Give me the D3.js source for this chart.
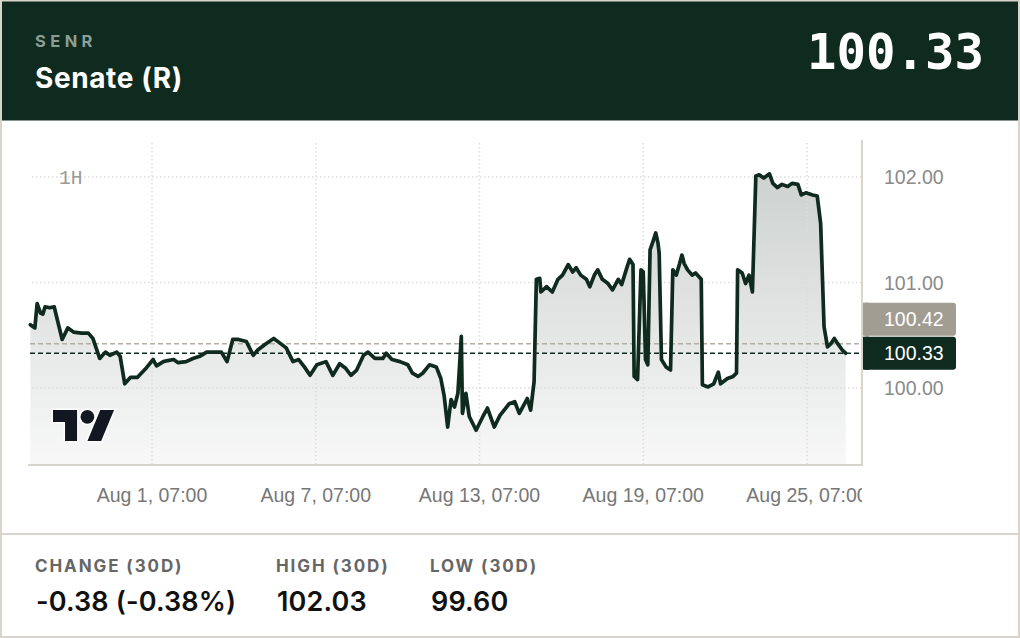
<!DOCTYPE html>
<html><head><meta charset="utf-8">
<script src="https://cdn.jsdelivr.net/npm/d3@7"></script>
<style>html,body{margin:0;padding:0;background:#fff;} svg{display:block}</style>
</head><body>
<svg id="c" width="1020" height="638"></svg>
<script>
// ---------- data ----------
const symbol = "SENR";
const title = "Senate (R)";
const intervalLabel = "1H";
const lastPrice = 100.33;
const prevClose = 100.42;
const startTime = "2024-07-27T00:00";
// hours since startTime
const hours = [20,24,26,29,31,33,37,41,43,48,53,58,65,71,75,81,86,90,96,99,103,108,114,122,128,131,137,141,146,150,157,163,169,175,181,188,193,198,203,210,216,220,226,234,239,245,251,256,261,266,272,280,286,292,297,302,307,313,317,323,330,333,338,345,352,356,361,365,371,377,381,384,387,390,393,396,399,400,403,406,412,418,422,428,433,441,446,450,457,460,463,465,468,469,474,479,484,488,493,497,500,504,509,512,516,519,523,528,532,537,540,544,547,550,551,554,557,559,561,563,565,567,570,572,573,575,579,583,585,588,591,593,595,598,602,605,610,611,616,621,625,627,633,638,641,642,646,649,652,655,658,661,665,670,673,677,681,686,690,695,698,702,708,712,715,718,721,724,727,730,734,737];
const prices = [100.60,100.57,100.80,100.71,100.70,100.77,100.76,100.77,100.68,100.46,100.57,100.53,100.52,100.52,100.47,100.28,100.34,100.31,100.34,100.30,100.04,100.10,100.10,100.19,100.27,100.21,100.25,100.26,100.27,100.24,100.25,100.28,100.30,100.34,100.34,100.34,100.25,100.46,100.46,100.44,100.31,100.36,100.41,100.47,100.43,100.38,100.25,100.27,100.20,100.12,100.22,100.25,100.12,100.23,100.19,100.12,100.17,100.31,100.34,100.28,100.28,100.33,100.27,100.25,100.22,100.14,100.11,100.14,100.22,100.20,100.09,99.92,99.63,99.89,99.82,99.95,100.49,99.76,99.95,99.73,99.60,99.73,99.81,99.63,99.74,99.85,99.87,99.76,99.90,99.79,100.06,101.03,101.04,100.91,100.96,100.91,101.03,101.07,101.17,101.10,101.14,101.07,101.03,100.96,101.07,101.12,101.03,100.99,100.93,101.03,100.98,101.12,101.22,101.17,100.11,100.08,101.12,101.10,100.27,100.22,101.31,101.37,101.47,101.37,101.28,100.27,100.20,100.17,101.12,101.07,101.18,101.26,101.18,101.12,101.07,101.09,101.03,100.03,100.01,100.04,100.15,100.04,100.09,100.11,100.14,101.12,101.09,100.99,101.07,100.91,102.01,102.02,101.99,102.03,101.94,101.90,101.93,101.91,101.94,101.93,101.83,101.85,101.83,101.82,101.56,100.58,100.39,100.42,100.47,100.42,100.36,100.33];
const yTicks = [100, 101, 102];
const xTicks = ["2024-08-01T07:00","2024-08-07T07:00","2024-08-13T07:00","2024-08-19T07:00","2024-08-25T07:00"];
const statLabels = ["CHANGE (30D)", "HIGH (30D)", "LOW (30D)"];
const statValues = ["-0.38 (-0.38%)", "102.03", "99.60"];

// ---------- setup ----------
const parse = d3.timeParse("%Y-%m-%dT%H:%M");
const t0 = parse(startTime);
const data = hours.map((h, i) => ({t: new Date(t0.getTime() + h * 3600e3), v: prices[i]}));
const tickDates = xTicks.map(parse);

const DARK = "#0f2a1f", BEIGE = "#d9d5cc";
const plotL = 30, plotR = 862, plotT = 140, plotB = 465;

const svg = d3.select("#c");
const defs = svg.append("defs");

const x = d3.scaleTime().domain([tickDates[0], tickDates[tickDates.length - 1]]).range([152, 807]);
const y = d3.scaleLinear().domain([100, 102]).range([388, 177]);

// background + header
svg.append("rect").attr("width", 1020).attr("height", 638).attr("fill", "#fff");
svg.append("rect").attr("x", 2).attr("y", 1).attr("width", 1016).attr("height", 119.5).attr("fill", DARK);

const uiFont = "Inter, 'Liberation Sans', sans-serif";
svg.append("text").attr("x", 35).attr("y", 47).text(symbol)
  .attr("font-family", uiFont).attr("font-weight", 700)
  .attr("font-size", 16.5).attr("letter-spacing", 4.4).attr("fill", "#8d9e95");
svg.append("text").attr("x", 35).attr("y", 88).text(title)
  .attr("font-family", uiFont).attr("font-weight", 700)
  .attr("font-size", 28).attr("letter-spacing", 0.6).attr("fill", "#fff");
svg.append("text").attr("x", 984).attr("y", 69).attr("text-anchor", "end").text(d3.format(".2f")(lastPrice))
  .attr("font-family", "'DejaVu Sans Mono', monospace").attr("font-weight", 700)
  .attr("font-size", 49).attr("fill", "#fff");

// gradient
const grad = defs.append("linearGradient").attr("id", "fillG")
  .attr("gradientUnits", "userSpaceOnUse").attr("x1", 0).attr("x2", 0).attr("y1", 175).attr("y2", plotB);
grad.append("stop").attr("offset", 0).attr("stop-color", "#cdd2d0");
grad.append("stop").attr("offset", 1).attr("stop-color", "#f8f8f8");

defs.append("clipPath").attr("id", "xclip").append("rect")
  .attr("x", 0).attr("y", plotB).attr("width", plotR).attr("height", 60);

// area
const area = d3.area().x(d => x(d.t)).y0(plotB).y1(d => y(d.v));
svg.append("path").datum(data).attr("d", area).attr("fill", "url(#fillG)");

// grid
const g = svg.append("g");
g.selectAll("line.h").data(yTicks).join("line")
  .attr("x1", 32).attr("x2", plotR).attr("y1", d => y(d)).attr("y2", d => y(d))
  .attr("stroke", "#dcdcdc").attr("stroke-width", 1.5).attr("stroke-dasharray", "1.5,2.5");
g.selectAll("line.v").data(tickDates).join("line")
  .attr("x1", d => x(d)).attr("x2", d => x(d)).attr("y1", 143).attr("y2", plotB)
  .attr("stroke", "#dcdcdc").attr("stroke-width", 1.5).attr("stroke-dasharray", "1.5,2.5");

// interval label
svg.append("text").attr("x", 59).attr("y", 184).text(intervalLabel)
  .attr("font-family", "'Liberation Mono', monospace").attr("font-size", 19.5).attr("fill", "#999");

// price lines
svg.append("line").attr("x1", plotL).attr("x2", plotR).attr("y1", y(prevClose)).attr("y2", y(prevClose))
  .attr("stroke", "#b3aea6").attr("stroke-width", 1.5).attr("stroke-dasharray", "5,3");
svg.append("line").attr("x1", plotL).attr("x2", plotR).attr("y1", y(lastPrice)).attr("y2", y(lastPrice))
  .attr("stroke", DARK).attr("stroke-width", 1.5).attr("stroke-dasharray", "5,3");

// line
const line = d3.line().x(d => x(d.t)).y(d => y(d.v));
svg.append("path").datum(data).attr("d", line).attr("fill", "none")
  .attr("stroke", DARK).attr("stroke-width", 3.7).attr("stroke-linejoin", "round").attr("stroke-linecap", "round");

// axes lines
svg.append("line").attr("x1", 28).attr("x2", plotR).attr("y1", plotB).attr("y2", plotB)
  .attr("stroke", BEIGE).attr("stroke-width", 2);
svg.append("line").attr("x1", plotR).attr("x2", plotR).attr("y1", plotT).attr("y2", plotB + 1)
  .attr("stroke", BEIGE).attr("stroke-width", 2);

// y labels
const labFont = "'Liberation Sans', Arial, sans-serif";
svg.selectAll("text.yl").data(yTicks).join("text")
  .attr("x", 884).attr("y", d => y(d) + 7).text(d => d3.format(".2f")(d))
  .attr("font-family", labFont).attr("font-size", 19.5).attr("fill", "#8a8a8a");

// badges
function badge(val, top, fill) {
  svg.append("rect").attr("x", plotR + 1).attr("y", top).attr("width", 93).attr("height", 33).attr("rx", 3).attr("fill", fill);
  svg.append("rect").attr("x", plotR + 1).attr("y", top).attr("width", 6).attr("height", 33).attr("fill", fill);
  svg.append("text").attr("x", 884).attr("y", top + 23.5).text(d3.format(".2f")(val))
    .attr("font-family", labFont).attr("font-size", 19.5).attr("fill", "#fff");
}
const darkTop = y(lastPrice) - 16.5;
badge(prevClose, darkTop - 34, "#a29d93");
badge(lastPrice, darkTop, DARK);

// x labels
const fmt = d3.timeFormat("%b %-d, %H:%M");
svg.append("g").attr("clip-path", "url(#xclip)")
  .selectAll("text").data(tickDates).join("text")
  .attr("x", d => x(d)).attr("y", 501.5).attr("text-anchor", "middle").text(fmt)
  .attr("font-family", labFont).attr("font-size", 19.5).attr("fill", "#777");

// TradingView logo
svg.append("g").attr("transform", "translate(53,403.1) scale(1.72)")
  .call(s => {
    s.append("path").attr("d", "M14 22H7V11H0V4h14v18zM28 22h-8l7.5-18h8L28 22z")
      .attr("fill", "#131722").attr("stroke", "#fff").attr("stroke-width", 1.6).attr("paint-order", "stroke");
    s.append("circle").attr("cx", 20).attr("cy", 8).attr("r", 4)
      .attr("fill", "#131722").attr("stroke", "#fff").attr("stroke-width", 1.6).attr("paint-order", "stroke");
  });

// divider + frame
svg.append("line").attr("x1", 0).attr("x2", 1020).attr("y1", 534).attr("y2", 534).attr("stroke", BEIGE).attr("stroke-width", 2);
svg.append("rect").attr("x", 1).attr("y", 0.5).attr("width", 1018).attr("height", 636.5)
  .attr("fill", "none").attr("stroke", BEIGE).attr("stroke-width", 2);

// footer stats
const statX = [35, 276, 430];
svg.selectAll("text.sl").data(statLabels).join("text")
  .attr("x", (d, i) => statX[i]).attr("y", 571.5).text(d => d)
  .attr("font-family", uiFont).attr("font-weight", 700)
  .attr("font-size", 17).attr("letter-spacing", 1.9).attr("fill", "#666");
svg.selectAll("text.sv").data(statValues).join("text")
  .attr("x", (d, i) => statX[i] + 1).attr("y", 610.5).text(d => d)
  .attr("font-family", uiFont).attr("font-weight", 600)
  .attr("font-size", 27).attr("letter-spacing", 0.15).attr("fill", "#111");
</script>
</body></html>
